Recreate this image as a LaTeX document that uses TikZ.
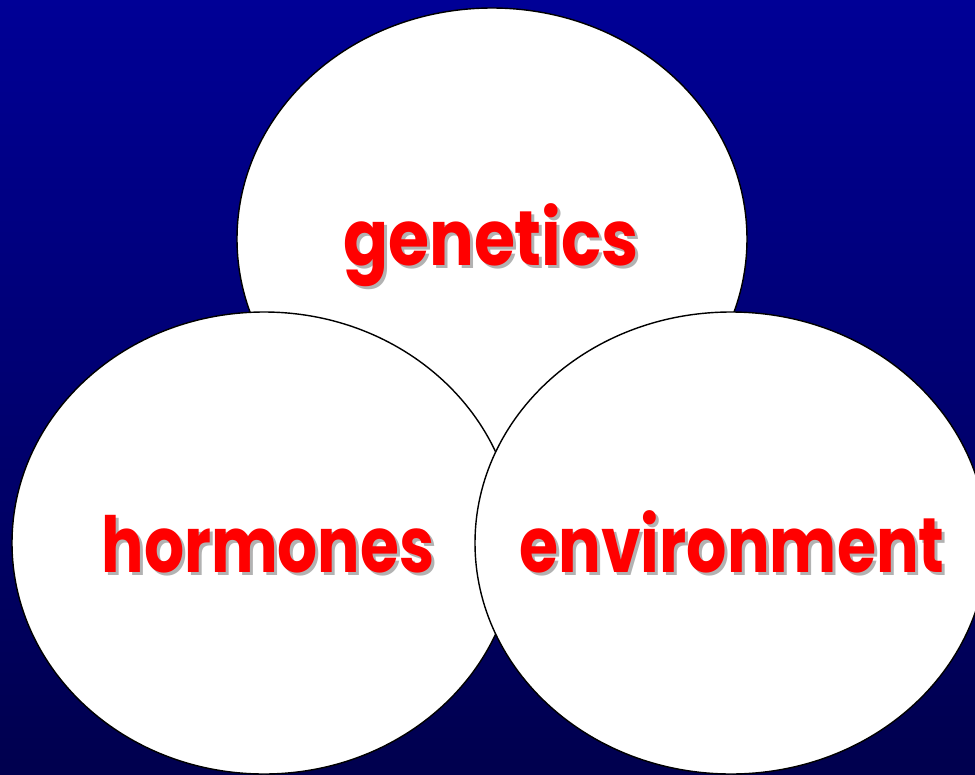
\documentclass[tikz,border=0pt]{standalone}
\usepackage{fontspec}
\setmainfont{Poppins}
\begin{document}
\begin{tikzpicture}[x=0.02cm,y=-0.02cm,
  bubble/.style={draw=black,line width=0.8pt,fill=white},
  lbl/.style={anchor=base,text=red,font=\fontsize{44}{50}\selectfont\bfseries,inner sep=0pt},
  shd/.style={anchor=base,text=black!30,font=\fontsize{44}{50}\selectfont\bfseries,inner sep=0pt}]
\definecolor{bgtop}{RGB}{0,0,150}
\definecolor{bgbot}{RGB}{0,0,78}
\useasboundingbox (0,0) rectangle (975,775);
\shade[top color=bgtop,bottom color=bgbot] (0,0) rectangle (975,775);
\begin{scope}
\clip (0,0) rectangle (975,775);
\draw[bubble] (492,239) ellipse [x radius=255,y radius=231];
\draw[bubble] (264,543) ellipse [x radius=252,y radius=231];
\draw[bubble] (731,543) ellipse [x radius=256,y radius=231];
\end{scope}
\node[shd] (gs) at (494,268) {\scalebox{0.86}[1]{genetics}};
\node[lbl] (g) at (491,265) {\scalebox{0.86}[1]{genetics}};
\node[shd] (hs) at (271,575) {\scalebox{0.815}[1]{hormones}};
\node[lbl] (h) at (268,572) {\scalebox{0.815}[1]{hormones}};
\node[shd] (es) at (735,575) {\scalebox{0.82}[1]{environment}};
\node[lbl] (e) at (732,572) {\scalebox{0.82}[1]{environment}};
\end{tikzpicture}
\end{document}
